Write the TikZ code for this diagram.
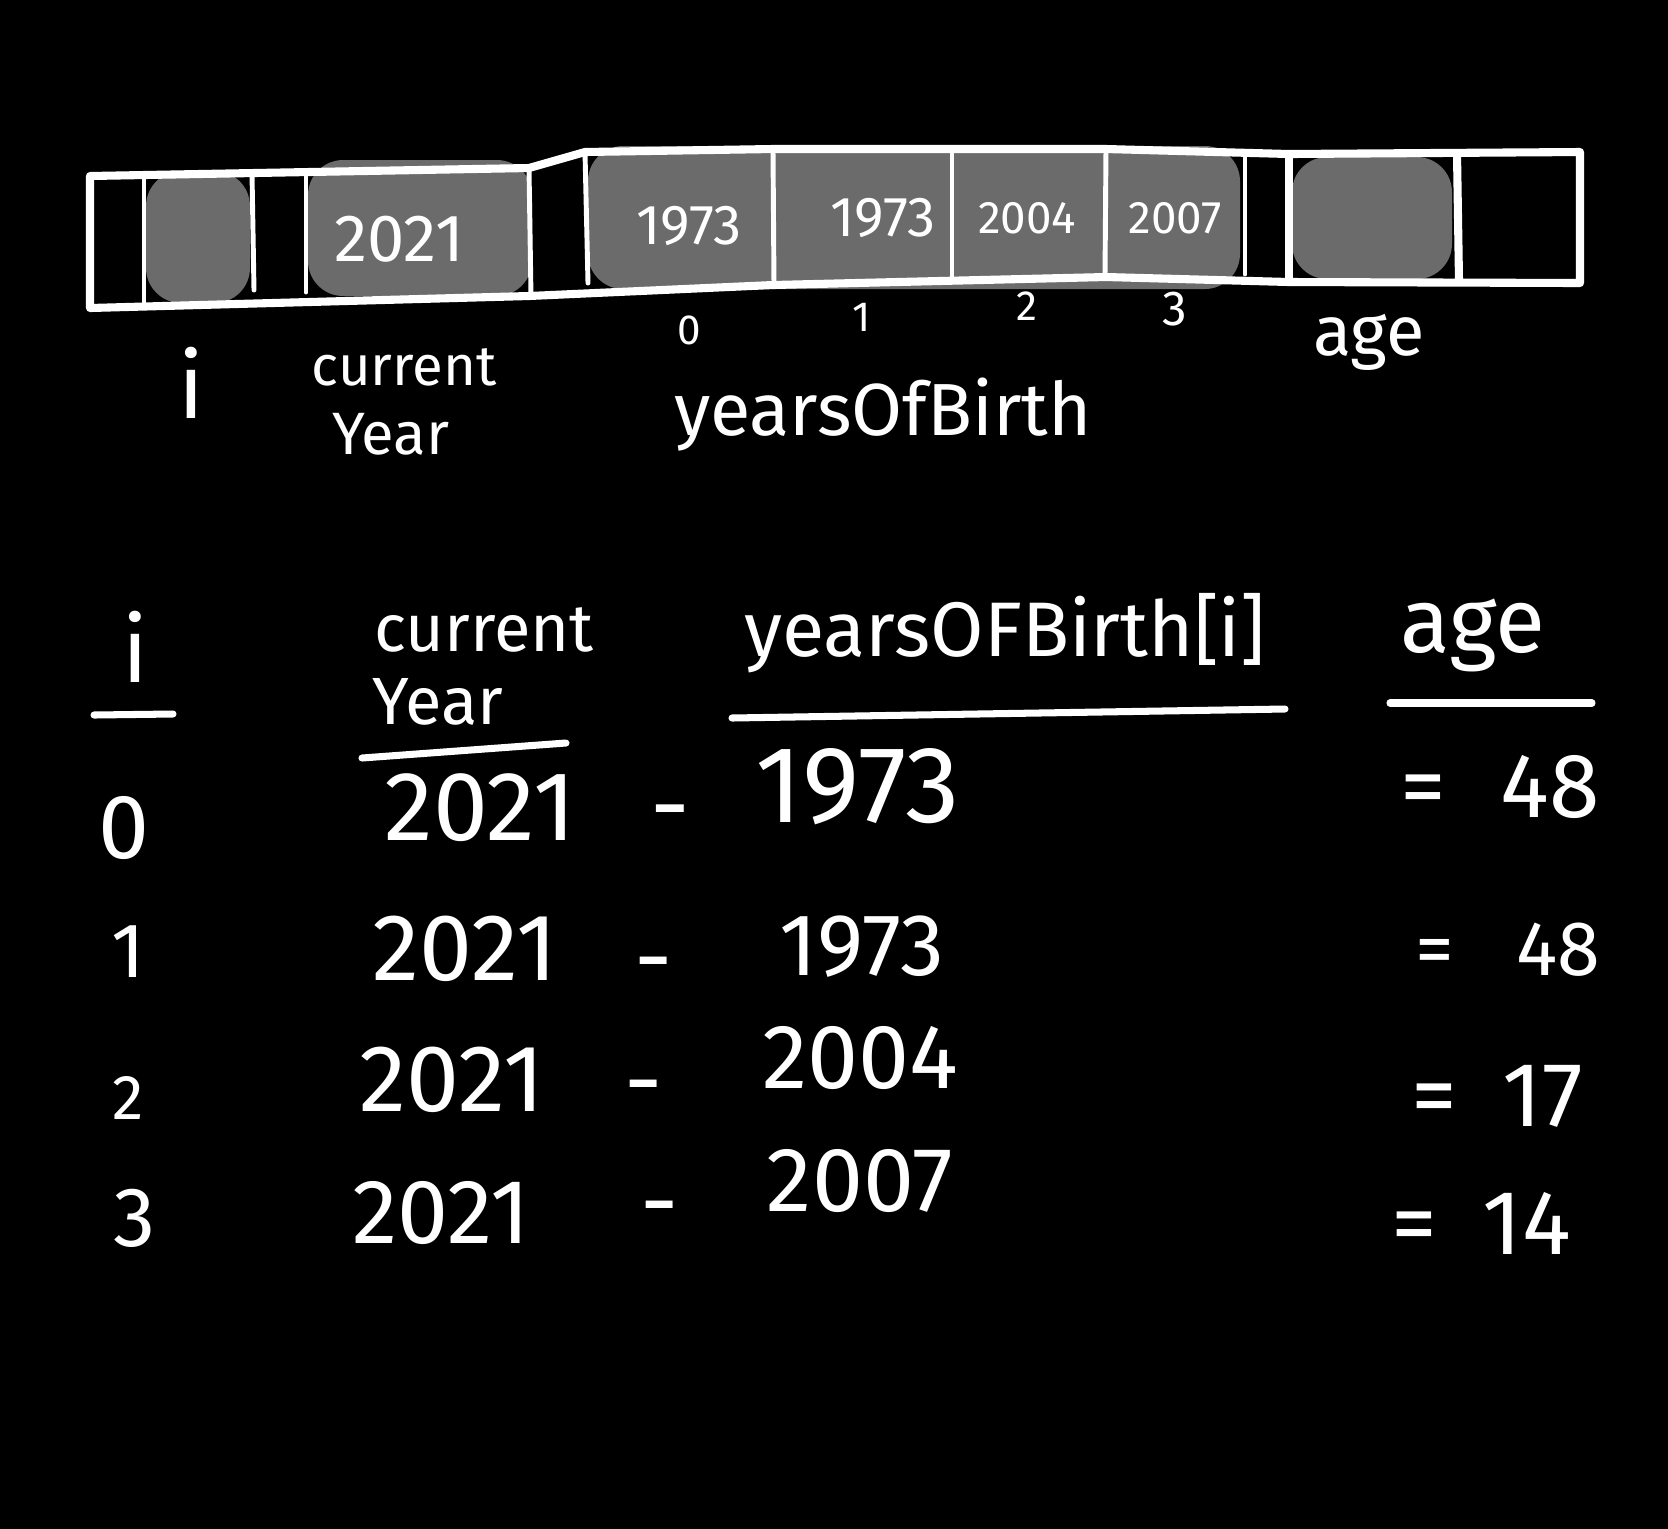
\documentclass[tikz,border=0pt]{standalone}
\usepackage{fontspec}
\setmainfont{Fira Sans}
\usepackage{tikz}

\definecolor{cellgray}{RGB}{107,107,107}
\newcommand{\fs}[1]{\fontsize{#1}{#1}\selectfont}

\begin{document}
\begin{tikzpicture}[x=0.01cm,y=-0.01cm,
  txt/.style={text=white,inner sep=0pt},
  cellfill/.style={fill=cellgray,rounded corners=10pt},
  stripline/.style={white,line width=2.3pt,line join=round,line cap=round},
  bar/.style={white,line width=1.4pt,line cap=round},
  rule/.style={white,line width=2pt,line cap=round}]
\fill[black] (0,0) rectangle (1668,1529);
\useasboundingbox (0,0) rectangle (1668,1529);

% the array in memory
\fill[cellfill] (146,171) rectangle (250,303);
\fill[cellfill] (308,160) rectangle (532,296);
\fill[cellfill] (588,146) rectangle (1240,289);
\fill[cellfill] (1292,157) rectangle (1452,279);
\draw[stripline] (90,176) -- (529,168) -- (585,152) -- (773,149) -- (1106,149)
  -- (1289,154) -- (1580,152) -- (1580,283) -- (1289,282) -- (1106,277)
  -- (773,285) -- (529,296) -- (90,308) -- cycle;
\draw[bar] (144,175) -- (144,306);
\draw[bar] (252,173) -- (254,290);
\draw[bar] (306,172) -- (306,292);
\draw[bar] (529,168) -- (531,296);
\draw[bar] (585,152) -- (588,283);
\draw[bar] (773,149) -- (774,285);
\draw[bar] (952,149) -- (952,281);
\draw[bar] (1106,149) -- (1105,277);
\draw[bar] (1245,153) -- (1245,274);
\draw[stripline] (1289,154) -- (1289,282);
\draw[stripline] (1457,153) -- (1459,280);

\node[txt,font=\fs{19}] (cy) at (399,239) {2021};
\node[txt,font=\fs{16}] (y0) at (689,226) {1973};
\node[txt,font=\fs{16}] (y1) at (883,218) {1973};
\node[txt,font=\fs{13}] (y2) at (1027,218) {2004};
\node[txt,font=\fs{13}] (y3) at (1175,218) {2007};
\node[txt,font=\fs{12}] (ix0) at (689,330) {0};
\node[txt,font=\fs{12}] (ix1) at (862,317) {1};
\node[txt,font=\fs{12}] (ix2) at (1027,306) {2};
\node[txt,font=\fs{14}] (ix3) at (1175,309) {3};

\node[txt,font=\fs{26}] (li) at (191,383) {i};
\node[txt,font=\fs{16}] (lcur) at (404,367) {current};
\node[txt,font=\fs{17}] (lyear) at (391,434) {Year};
\node[txt,font=\fs{21}] (lyob) at (883,415) {yearsOfBirth};
\node[txt,font=\fs{20}] (lage) at (1369,342) {age};

% the table
\node[txt,font=\fs{26}] (hi) at (135,647) {i};
\node[txt,font=\fs{19}] (hcur) at (484,630) {current};
\node[txt,font=\fs{19}] (hyear) at (438,702) {Year};
\node[txt,font=\fs{22}] (hyob) at (1005,633) {yearsOFBirth[i]};
\node[txt,font=\fs{26}] (hage) at (1473,635) {age};
\draw[rule] (94,715) -- (173,714);
\draw[rule] (362,758) -- (566,743);
\draw[rule] (732,718) -- (1285,709);
\draw[rule] (1390,703) -- (1592,703);

\node[txt,font=\fs{26}] (r0i) at (124,828) {0};
\node[txt,font=\fs{28}] (r0c) at (480,808) {2021};
\node[txt,font=\fs{28}] (r0m) at (670,822) {-};
\node[txt,font=\fs{31}] (r0y) at (858,787) {1973};
\node[txt,font=\fs{26}] (r0a) at (1500,787) {=\hspace{0.6em}48};

\node[txt,font=\fs{22}] (r1i) at (128,952) {1};
\node[txt,font=\fs{27}] (r1c) at (465,949) {2021};
\node[txt,font=\fs{27}] (r1m) at (654,974) {-};
\node[txt,font=\fs{25}] (r1y) at (862,947) {1973};
\node[txt,font=\fs{22}] (r1a) at (1508,950) {=\hspace{0.8em}48};

\node[txt,font=\fs{18}] (r2i) at (128,1098) {2};
\node[txt,font=\fs{27}] (r2c) at (452,1080) {2021};
\node[txt,font=\fs{27}] (r2m) at (644,1097) {-};
\node[txt,font=\fs{26}] (r2y) at (860,1058) {2004};
\node[txt,font=\fs{26}] (r2a) at (1497,1096) {=\hspace{0.5em}17};

\node[txt,font=\fs{24}] (r3i) at (135,1218) {3};
\node[txt,font=\fs{26}] (r3c) at (441,1213) {2021};
\node[txt,font=\fs{27}] (r3m) at (660,1218) {-};
\node[txt,font=\fs{26}] (r3y) at (860,1181) {2007};
\node[txt,font=\fs{26}] (r3a) at (1481,1223) {=\hspace{0.5em}14};
\end{tikzpicture}
\end{document}
